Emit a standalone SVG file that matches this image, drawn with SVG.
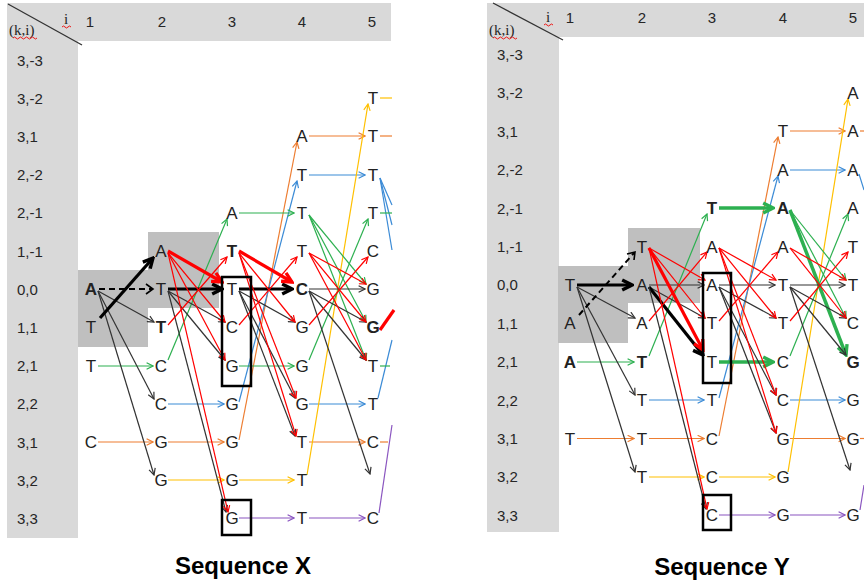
<svg xmlns="http://www.w3.org/2000/svg" width="864" height="586" viewBox="0 0 864 586">
<style>
.bg{fill:#fff}
.hd{fill:#D9D9D9}
.sh{fill:#BFBFBF}
.n{font-family:"Liberation Sans",Arial,sans-serif;font-size:17px;fill:#222;text-anchor:middle}
.b{font-weight:bold}
.lab{font-family:"Liberation Sans",Arial,sans-serif;font-size:15px;fill:#262626}
.hn{font-family:"Liberation Sans",Arial,sans-serif;font-size:15px;fill:#262626;text-anchor:middle}
.sf{font-family:"Liberation Serif","Times New Roman",serif;font-size:15px;fill:#262626}
.cap{font-family:"Liberation Sans",Arial,sans-serif;font-size:24px;font-weight:bold;fill:#000;text-anchor:middle}
.wv{fill:none;stroke:#E00;stroke-width:0.9}
.box{fill:none;stroke:#000;stroke-width:2.5}
line{fill:none;stroke-width:1.2}
.or{stroke:#ED7D31;marker-end:url(#m-or)}
.bl{stroke:#3B8BD6;marker-end:url(#m-bl)}
.ye{stroke:#FFC000;marker-end:url(#m-ye)}
.gr{stroke:#2DB050;marker-end:url(#m-gr)}
.rd{stroke:#FF0000;marker-end:url(#m-rd)}
.bk{stroke:#333;marker-end:url(#m-bk)}
.pu{stroke:#8A55C0;marker-end:url(#m-pu)}
.T.gr{stroke-width:3.5;marker-end:url(#M-gr)}
.T.rd{stroke-width:3.2;marker-end:url(#M-rd)}
.T.bk{stroke:#000;stroke-width:3.2;marker-end:url(#M-bk)}
.ds{stroke:#000;stroke-width:2;stroke-dasharray:6 4}
line.nm{marker-end:none !important}
</style>
<defs>
<marker id="m-or" viewBox="0 0 10 10" refX="9" refY="5" markerWidth="8" markerHeight="8" markerUnits="userSpaceOnUse" orient="auto"><path d="M1,1 L9,5 L1,9" fill="none" stroke="#ED7D31" stroke-width="1.5"/></marker>
<marker id="m-bl" viewBox="0 0 10 10" refX="9" refY="5" markerWidth="8" markerHeight="8" markerUnits="userSpaceOnUse" orient="auto"><path d="M1,1 L9,5 L1,9" fill="none" stroke="#3B8BD6" stroke-width="1.5"/></marker>
<marker id="m-ye" viewBox="0 0 10 10" refX="9" refY="5" markerWidth="8" markerHeight="8" markerUnits="userSpaceOnUse" orient="auto"><path d="M1,1 L9,5 L1,9" fill="none" stroke="#FFC000" stroke-width="1.5"/></marker>
<marker id="m-gr" viewBox="0 0 10 10" refX="9" refY="5" markerWidth="8" markerHeight="8" markerUnits="userSpaceOnUse" orient="auto"><path d="M1,1 L9,5 L1,9" fill="none" stroke="#2DB050" stroke-width="1.5"/></marker>
<marker id="m-rd" viewBox="0 0 10 10" refX="9" refY="5" markerWidth="8" markerHeight="8" markerUnits="userSpaceOnUse" orient="auto"><path d="M1,1 L9,5 L1,9" fill="none" stroke="#FF0000" stroke-width="1.5"/></marker>
<marker id="m-bk" viewBox="0 0 10 10" refX="9" refY="5" markerWidth="8" markerHeight="8" markerUnits="userSpaceOnUse" orient="auto"><path d="M1,1 L9,5 L1,9" fill="none" stroke="#333" stroke-width="1.5"/></marker>
<marker id="m-pu" viewBox="0 0 10 10" refX="9" refY="5" markerWidth="8" markerHeight="8" markerUnits="userSpaceOnUse" orient="auto"><path d="M1,1 L9,5 L1,9" fill="none" stroke="#8A55C0" stroke-width="1.5"/></marker>
<marker id="M-bk" viewBox="0 0 10 10" refX="8.5" refY="5" markerWidth="14" markerHeight="14" markerUnits="userSpaceOnUse" orient="auto"><path d="M1.5,1.5 L8.5,5 L1.5,8.5" fill="none" stroke="#000" stroke-width="2.4"/></marker>
<marker id="M-rd" viewBox="0 0 10 10" refX="8.5" refY="5" markerWidth="14" markerHeight="14" markerUnits="userSpaceOnUse" orient="auto"><path d="M1.5,1.5 L8.5,5 L1.5,8.5" fill="none" stroke="#FF0000" stroke-width="2.4"/></marker>
<marker id="M-gr" viewBox="0 0 10 10" refX="8.5" refY="5" markerWidth="14" markerHeight="14" markerUnits="userSpaceOnUse" orient="auto"><path d="M1.5,1.5 L8.5,5 L1.5,8.5" fill="none" stroke="#2DB050" stroke-width="2.4"/></marker>
</defs>
<rect class="bg" x="0" y="0" width="864" height="586"/>

<!-- LEFT PANEL background -->
<g id="x-frame">
<rect class="hd" x="7" y="3" width="384" height="38"/>
<rect class="hd" x="7" y="3" width="71" height="535"/>
<line x1="8" y1="4" x2="82" y2="45" style="stroke:#333;stroke-width:1.3"/>
<text class="sf" x="9" y="35">(k,i)</text>
<path class="wv" d="M13,38 q1.5,-2 3,0 t3,0 t3,0 t3,0 t3,0 t3,0 t3,0 t3,0"/>
<text class="sf" x="64" y="24">i</text>
<path class="wv" d="M62,27 q1.5,-2 3,0 t3,0 t3,0"/>
<text class="hn" x="90" y="27">1</text>
<text class="hn" x="162" y="27">2</text>
<text class="hn" x="232" y="27">3</text>
<text class="hn" x="302" y="27">4</text>
<text class="hn" x="372" y="27">5</text>
<text class="lab" x="17" y="65.5">3,-3</text>
<text class="lab" x="17" y="103.7">3,-2</text>
<text class="lab" x="17" y="141.9">3,1</text>
<text class="lab" x="17" y="180.1">2,-2</text>
<text class="lab" x="17" y="218.3">2,-1</text>
<text class="lab" x="17" y="256.5">1,-1</text>
<text class="lab" x="17" y="294.7">0,0</text>
<text class="lab" x="17" y="332.9">1,1</text>
<text class="lab" x="17" y="371.1">2,1</text>
<text class="lab" x="17" y="409.3">2,2</text>
<text class="lab" x="17" y="447.5">3,1</text>
<text class="lab" x="17" y="485.7">3,2</text>
<text class="lab" x="17" y="523.9">3,3</text>
<rect class="sh" x="78" y="270" width="70" height="77"/>
<rect class="sh" x="148" y="232" width="71" height="76"/>
</g>

<!-- RIGHT PANEL background -->
<g id="y-frame">
<rect class="hd" x="487" y="3" width="377" height="34"/>
<rect class="hd" x="487" y="3" width="72" height="529"/>
<line x1="493" y1="3" x2="563" y2="40" style="stroke:#333;stroke-width:1.3"/>
<text class="sf" x="489" y="35">(k,i)</text>
<path class="wv" d="M493,38 q1.5,-2 3,0 t3,0 t3,0 t3,0 t3,0 t3,0 t3,0 t3,0"/>
<text class="sf" x="546" y="22">i</text>
<path class="wv" d="M544,25 q1.5,-2 3,0 t3,0 t3,0"/>
<text class="hn" x="570" y="23">1</text>
<text class="hn" x="642" y="23">2</text>
<text class="hn" x="712" y="23">3</text>
<text class="hn" x="783" y="23">4</text>
<text class="hn" x="853" y="23">5</text>
<text class="lab" x="497" y="60">3,-3</text>
<text class="lab" x="497" y="98.4">3,-2</text>
<text class="lab" x="497" y="136.8">3,1</text>
<text class="lab" x="497" y="175.2">2,-2</text>
<text class="lab" x="497" y="213.6">2,-1</text>
<text class="lab" x="497" y="252">1,-1</text>
<text class="lab" x="497" y="290.4">0,0</text>
<text class="lab" x="497" y="328.8">1,1</text>
<text class="lab" x="497" y="367.2">2,1</text>
<text class="lab" x="497" y="405.6">2,2</text>
<text class="lab" x="497" y="444">3,1</text>
<text class="lab" x="497" y="482.4">3,2</text>
<text class="lab" x="497" y="520.8">3,3</text>
<rect class="sh" x="558" y="266" width="70" height="77"/>
<rect class="sh" x="628" y="228" width="72" height="75"/>
</g>

<!-- CONNECTORS -->
<g id="connectors">
<!-- left: orange -->
<line class="or" x1="98" y1="442" x2="153" y2="442"/>
<line class="or" x1="168" y1="442" x2="224" y2="442"/>
<line class="or" x1="239" y1="440" x2="297" y2="142"/>
<line class="or" x1="309" y1="136" x2="365" y2="136"/>
<line class="or" x1="309" y1="442" x2="365" y2="442"/>
<line class="or nm" x1="380" y1="136" x2="392" y2="136"/>
<line class="or nm" x1="380" y1="442" x2="388" y2="442"/>
<!-- left: blue -->
<line class="bl" x1="168" y1="404" x2="224" y2="404"/>
<line class="bl" x1="239" y1="402" x2="297" y2="181"/>
<line class="bl" x1="309" y1="175" x2="365" y2="175"/>
<line class="bl" x1="309" y1="404" x2="365" y2="404"/>
<line class="bl nm" x1="380" y1="178" x2="392" y2="205"/>
<line class="bl nm" x1="380" y1="178" x2="392" y2="225"/>
<line class="bl nm" x1="380" y1="178" x2="392" y2="250"/>
<line class="bl nm" x1="378" y1="398" x2="392" y2="340"/>
<!-- left: yellow -->
<line class="ye" x1="168" y1="480" x2="224" y2="480"/>
<line class="ye" x1="239" y1="480" x2="294" y2="480"/>
<line class="ye" x1="307" y1="475" x2="368" y2="104"/>
<line class="ye nm" x1="380" y1="98" x2="392" y2="98"/>
<!-- left: purple -->
<line class="pu" x1="239" y1="518" x2="294" y2="518"/>
<line class="pu" x1="309" y1="518" x2="365" y2="518"/>
<line class="pu nm" x1="379" y1="513" x2="392" y2="425"/>
<!-- left: green -->
<line class="gr" x1="98" y1="366" x2="153" y2="366"/>
<line class="gr" x1="168" y1="360" x2="227" y2="219"/>
<line class="gr" x1="239" y1="213" x2="294" y2="213"/>
<line class="gr" x1="309" y1="215" x2="366" y2="284"/>
<line class="gr" x1="309" y1="215" x2="366" y2="322"/>
<line class="gr" x1="309" y1="215" x2="366" y2="360"/>
<line class="gr" x1="239" y1="366" x2="294" y2="366"/>
<line class="gr" x1="309" y1="360" x2="368" y2="219"/>
<line class="gr nm" x1="380" y1="213" x2="392" y2="213"/>
<line class="gr nm" x1="380" y1="366" x2="390" y2="366"/>
<!-- left: black -->
<line class="ds" x1="99" y1="289" x2="152" y2="289"/>
<path d="M146,284 L153,289 L146,294" fill="none" stroke="#000" stroke-width="1.6"/>
<line class="bk" x1="98" y1="291" x2="154" y2="322"/>
<line class="bk" x1="98" y1="291" x2="154" y2="399"/>
<line class="bk" x1="98" y1="291" x2="154" y2="475"/>
<line class="bk T" x1="100" y1="318" x2="153" y2="258"/>
<line class="bk T" x1="168" y1="289" x2="222" y2="289"/>
<line class="bk" x1="168" y1="291" x2="225" y2="322"/>
<line class="bk" x1="168" y1="291" x2="225" y2="360"/>
<line class="bk" x1="168" y1="291" x2="226" y2="512"/>
<line class="bk T" x1="239" y1="289" x2="292" y2="289"/>
<line class="bk" x1="239" y1="291" x2="295" y2="322"/>
<line class="bk" x1="239" y1="291" x2="295" y2="398"/>
<line class="bk" x1="239" y1="291" x2="295" y2="436"/>
<line class="bk" x1="309" y1="289" x2="365" y2="289"/>
<line class="bk" x1="309" y1="291" x2="366" y2="322"/>
<line class="bk" x1="309" y1="291" x2="366" y2="360"/>
<line class="bk" x1="309" y1="291" x2="370" y2="474"/>
<!-- left: red -->
<line class="rd T" x1="168" y1="251" x2="222" y2="282"/>
<line class="rd" x1="168" y1="253" x2="225" y2="322"/>
<line class="rd" x1="168" y1="253" x2="225" y2="360"/>
<line class="rd" x1="168" y1="253" x2="228" y2="512"/>
<line class="rd" x1="168" y1="325" x2="227" y2="257"/>
<line class="rd T" x1="239" y1="251" x2="292" y2="282"/>
<line class="rd" x1="239" y1="253" x2="295" y2="322"/>
<line class="rd" x1="239" y1="253" x2="296" y2="398"/>
<line class="rd" x1="239" y1="253" x2="296" y2="436"/>
<line class="rd" x1="239" y1="325" x2="297" y2="257"/>
<line class="rd" x1="309" y1="253" x2="366" y2="284"/>
<line class="rd" x1="309" y1="253" x2="366" y2="322"/>
<line class="rd" x1="309" y1="253" x2="366" y2="360"/>
<line class="rd" x1="309" y1="325" x2="368" y2="257"/>
<line class="rd T nm" x1="380" y1="330" x2="394" y2="310"/>

<!-- right: orange -->
<line class="or" x1="577" y1="438.5" x2="634" y2="438.5"/>
<line class="or" x1="649" y1="438.5" x2="704" y2="438.5"/>
<line class="or" x1="719" y1="436" x2="778" y2="137"/>
<line class="or" x1="790" y1="131" x2="845" y2="131"/>
<line class="or" x1="790" y1="438.5" x2="845" y2="438.5"/>
<line class="or nm" x1="860" y1="131" x2="864" y2="131"/>
<line class="or nm" x1="860" y1="438.5" x2="864" y2="438.5"/>
<!-- right: blue -->
<line class="bl" x1="649" y1="400" x2="704" y2="400"/>
<line class="bl" x1="719" y1="398" x2="778" y2="176"/>
<line class="bl" x1="790" y1="170" x2="845" y2="170"/>
<line class="bl" x1="790" y1="400" x2="845" y2="400"/>
<line class="bl nm" x1="859" y1="174" x2="864" y2="190"/>
<!-- right: yellow -->
<line class="ye" x1="649" y1="477" x2="704" y2="477"/>
<line class="ye" x1="719" y1="477" x2="775" y2="477"/>
<line class="ye" x1="788" y1="472" x2="848" y2="99"/>
<!-- right: purple -->
<line class="pu" x1="719" y1="515" x2="775" y2="515"/>
<line class="pu" x1="790" y1="515" x2="845" y2="515"/>
<line class="pu nm" x1="860" y1="510" x2="864" y2="485"/>
<!-- right: green -->
<line class="gr" x1="577" y1="362" x2="634" y2="362"/>
<line class="gr" x1="649" y1="356" x2="707" y2="214"/>
<line class="gr T" x1="719" y1="208" x2="773" y2="208"/>
<line class="gr" x1="790" y1="210" x2="846" y2="280"/>
<line class="gr" x1="790" y1="210" x2="846" y2="318"/>
<line class="gr T" x1="790" y1="210" x2="846" y2="355"/>
<line class="gr T" x1="719" y1="362" x2="773" y2="362"/>
<line class="gr" x1="790" y1="356" x2="848" y2="214"/>
<!-- right: black -->
<line class="bk T" x1="577" y1="285" x2="632" y2="285"/>
<line class="bk" x1="577" y1="287" x2="635" y2="318"/>
<line class="bk" x1="577" y1="287" x2="635" y2="395"/>
<line class="bk" x1="577" y1="287" x2="635" y2="472"/>
<line class="ds" x1="579" y1="315" x2="634" y2="253"/>
<path d="M627,254 L635,252 L634,260" fill="none" stroke="#000" stroke-width="1.6"/>
<line class="bk" x1="649" y1="285" x2="704" y2="285"/>
<line class="bk" x1="649" y1="287" x2="705" y2="318"/>
<line class="bk T" x1="649" y1="287" x2="703" y2="355"/>
<line class="bk" x1="649" y1="287" x2="706" y2="509"/>
<line class="bk" x1="719" y1="285" x2="775" y2="285"/>
<line class="bk" x1="719" y1="287" x2="776" y2="318"/>
<line class="bk" x1="719" y1="287" x2="776" y2="395"/>
<line class="bk" x1="719" y1="287" x2="776" y2="433"/>
<line class="bk" x1="790" y1="285" x2="845" y2="285"/>
<line class="bk" x1="790" y1="287" x2="846" y2="318"/>
<line class="bk" x1="790" y1="287" x2="846" y2="355"/>
<line class="bk" x1="790" y1="287" x2="850" y2="470"/>
<!-- right: red -->
<line class="rd" x1="649" y1="248" x2="705" y2="280"/>
<line class="rd" x1="649" y1="248" x2="705" y2="318"/>
<line class="rd T" x1="649" y1="248" x2="703" y2="350"/>
<line class="rd" x1="649" y1="248" x2="707" y2="509"/>
<line class="rd" x1="649" y1="321" x2="707" y2="252"/>
<line class="rd" x1="719" y1="248" x2="776" y2="280"/>
<line class="rd" x1="719" y1="248" x2="776" y2="318"/>
<line class="rd" x1="719" y1="248" x2="776" y2="395"/>
<line class="rd" x1="719" y1="248" x2="776" y2="433"/>
<line class="rd" x1="719" y1="321" x2="778" y2="252"/>
<line class="rd" x1="790" y1="248" x2="846" y2="280"/>
<line class="rd" x1="790" y1="248" x2="846" y2="318"/>
<line class="rd" x1="790" y1="321" x2="848" y2="252"/>
</g>

<!-- BOXES -->
<g id="boxes">
<rect class="box" x="222" y="277" width="29" height="109"/>
<rect class="box" x="222" y="500" width="29" height="35"/>
<rect class="box" x="703" y="273" width="28" height="110"/>
<rect class="box" x="703" y="495" width="28" height="35"/>
</g>

<!-- LEFT NODES (Sequence X) -->
<g id="x-1-6"><text class="n b" x="91" y="295.2">A</text></g>
<g id="x-1-7"><text class="n" x="91" y="333.4">T</text></g>
<g id="x-1-8"><text class="n" x="91" y="371.6">T</text></g>
<g id="x-1-10"><text class="n" x="91" y="448">C</text></g>
<g id="x-2-5"><text class="n" x="161" y="257">A</text></g>
<g id="x-2-6"><text class="n" x="161" y="295.2">T</text></g>
<g id="x-2-7"><text class="n b" x="161" y="333.4">T</text></g>
<g id="x-2-8"><text class="n" x="161" y="371.6">C</text></g>
<g id="x-2-9"><text class="n" x="161" y="409.8">C</text></g>
<g id="x-2-10"><text class="n" x="161" y="448">G</text></g>
<g id="x-2-11"><text class="n" x="161" y="486.2">G</text></g>
<g id="x-3-4"><text class="n" x="232" y="218.8">A</text></g>
<g id="x-3-5"><text class="n b" x="232" y="257">T</text></g>
<g id="x-3-6"><text class="n" x="232" y="295.2">T</text></g>
<g id="x-3-7"><text class="n" x="232" y="333.4">C</text></g>
<g id="x-3-8"><text class="n" x="232" y="371.6">G</text></g>
<g id="x-3-9"><text class="n" x="232" y="409.8">G</text></g>
<g id="x-3-10"><text class="n" x="232" y="448">G</text></g>
<g id="x-3-11"><text class="n" x="232" y="486.2">G</text></g>
<g id="x-3-12"><text class="n" x="232" y="524.4">G</text></g>
<g id="x-4-2"><text class="n" x="302" y="142.4">A</text></g>
<g id="x-4-3"><text class="n" x="302" y="180.6">T</text></g>
<g id="x-4-4"><text class="n" x="302" y="218.8">T</text></g>
<g id="x-4-5"><text class="n" x="302" y="257">T</text></g>
<g id="x-4-6"><text class="n b" x="302" y="295.2">C</text></g>
<g id="x-4-7"><text class="n" x="302" y="333.4">G</text></g>
<g id="x-4-8"><text class="n" x="302" y="371.6">G</text></g>
<g id="x-4-9"><text class="n" x="302" y="409.8">G</text></g>
<g id="x-4-10"><text class="n" x="302" y="448">T</text></g>
<g id="x-4-11"><text class="n" x="302" y="486.2">T</text></g>
<g id="x-4-12"><text class="n" x="302" y="524.4">T</text></g>
<g id="x-5-1"><text class="n" x="373" y="104.2">T</text></g>
<g id="x-5-2"><text class="n" x="373" y="142.4">T</text></g>
<g id="x-5-3"><text class="n" x="373" y="180.6">T</text></g>
<g id="x-5-4"><text class="n" x="373" y="218.8">T</text></g>
<g id="x-5-5"><text class="n" x="373" y="257">C</text></g>
<g id="x-5-6"><text class="n" x="373" y="295.2">G</text></g>
<g id="x-5-7"><text class="n b" x="373" y="333.4">G</text></g>
<g id="x-5-8"><text class="n" x="373" y="371.6">T</text></g>
<g id="x-5-9"><text class="n" x="373" y="409.8">T</text></g>
<g id="x-5-10"><text class="n" x="373" y="448">C</text></g>
<g id="x-5-12"><text class="n" x="373" y="524.4">C</text></g>

<!-- RIGHT NODES (Sequence Y) -->
<g id="y-1-6"><text class="n" x="570" y="290.9">T</text></g>
<g id="y-1-7"><text class="n" x="570" y="329.3">A</text></g>
<g id="y-1-8"><text class="n b" x="570" y="367.7">A</text></g>
<g id="y-1-10"><text class="n" x="570" y="444.5">T</text></g>
<g id="y-2-5"><text class="n" x="642" y="252.5">T</text></g>
<g id="y-2-6"><text class="n" x="642" y="290.9">A</text></g>
<g id="y-2-7"><text class="n" x="642" y="329.3">A</text></g>
<g id="y-2-8"><text class="n b" x="642" y="367.7">T</text></g>
<g id="y-2-9"><text class="n" x="642" y="406.1">T</text></g>
<g id="y-2-10"><text class="n" x="642" y="444.5">T</text></g>
<g id="y-2-11"><text class="n" x="642" y="482.9">T</text></g>
<g id="y-3-4"><text class="n b" x="712" y="214.1">T</text></g>
<g id="y-3-5"><text class="n" x="712" y="252.5">A</text></g>
<g id="y-3-6"><text class="n" x="712" y="290.9">A</text></g>
<g id="y-3-7"><text class="n" x="712" y="329.3">T</text></g>
<g id="y-3-8"><text class="n" x="712" y="367.7">T</text></g>
<g id="y-3-9"><text class="n" x="712" y="406.1">T</text></g>
<g id="y-3-10"><text class="n" x="712" y="444.5">C</text></g>
<g id="y-3-11"><text class="n" x="712" y="482.9">C</text></g>
<g id="y-3-12"><text class="n" x="712" y="521.3">C</text></g>
<g id="y-4-2"><text class="n" x="783" y="137.3">T</text></g>
<g id="y-4-3"><text class="n" x="783" y="175.7">A</text></g>
<g id="y-4-4"><text class="n b" x="783" y="214.1">A</text></g>
<g id="y-4-5"><text class="n" x="783" y="252.5">A</text></g>
<g id="y-4-6"><text class="n" x="783" y="290.9">T</text></g>
<g id="y-4-7"><text class="n" x="783" y="329.3">T</text></g>
<g id="y-4-8"><text class="n" x="783" y="367.7">C</text></g>
<g id="y-4-9"><text class="n" x="783" y="406.1">C</text></g>
<g id="y-4-10"><text class="n" x="783" y="444.5">G</text></g>
<g id="y-4-11"><text class="n" x="783" y="482.9">G</text></g>
<g id="y-4-12"><text class="n" x="783" y="521.3">G</text></g>
<g id="y-5-1"><text class="n" x="853" y="98.9">A</text></g>
<g id="y-5-2"><text class="n" x="853" y="137.3">A</text></g>
<g id="y-5-3"><text class="n" x="853" y="175.7">A</text></g>
<g id="y-5-4"><text class="n" x="853" y="214.1">A</text></g>
<g id="y-5-5"><text class="n" x="853" y="252.5">T</text></g>
<g id="y-5-6"><text class="n" x="853" y="290.9">T</text></g>
<g id="y-5-7"><text class="n" x="853" y="329.3">C</text></g>
<g id="y-5-8"><text class="n b" x="853" y="367.7">G</text></g>
<g id="y-5-9"><text class="n" x="853" y="406.1">G</text></g>
<g id="y-5-10"><text class="n" x="853" y="444.5">G</text></g>
<g id="y-5-12"><text class="n" x="853" y="521.3">G</text></g>

<g id="captions">
<text class="cap" x="243" y="574">Sequence X</text>
<text class="cap" x="722" y="575">Sequence Y</text>
</g>
</svg>
